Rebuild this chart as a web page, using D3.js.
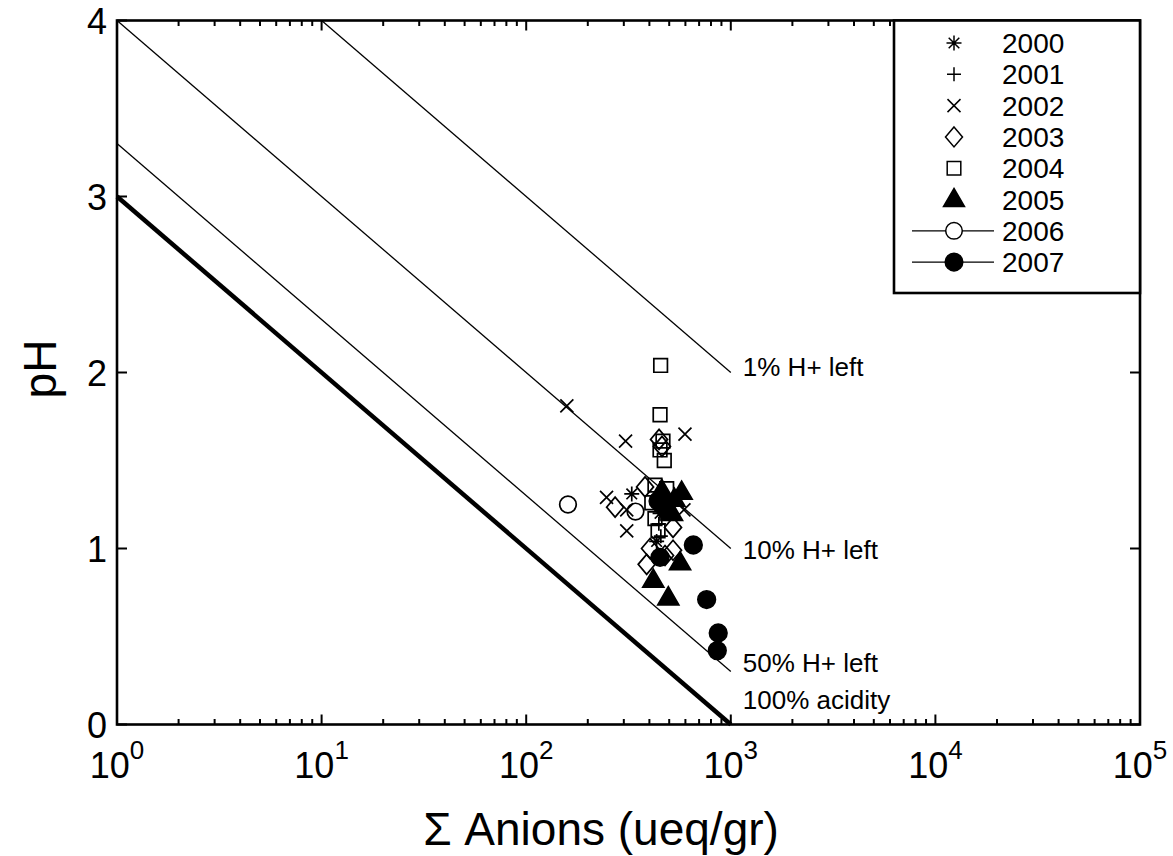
<!DOCTYPE html>
<html>
<head>
<meta charset="utf-8">
<script src="https://cdn.jsdelivr.net/npm/d3@7"></script>
<style>
  html, body { margin: 0; padding: 0; background: #fff; }
  svg { display: block; font-family: "Liberation Sans", Arial, sans-serif; }
</style>
</head>
<body>
<svg id="chart" width="1173" height="856"></svg>
<script>
// Sample data: [sum of anions (ueq/gr), pH]
const s2000 = [[328, 1.31], [434, 1.04], [451, 1.20], [477, 1.26]];
const s2001 = [[445, 1.14], [470, 1.21], [455, 1.07], [490, 1.29]];
const s2002 = [[158, 1.81], [306, 1.61], [597, 1.65], [247, 1.29], [310, 1.10], [310, 1.22], [590, 1.22]];
const s2003 = [[272, 1.235], [381, 1.35], [446, 1.62], [461, 1.58], [522, 1.12], [403, 1.00], [522, 0.99], [388, 0.91], [477, 0.96]];
const s2004 = [[454, 2.04], [451, 1.76], [466, 1.61], [451, 1.56], [473, 1.50], [426, 1.36], [486, 1.34], [411, 1.26], [426, 1.17], [441, 1.10]];
const s2005 = [[575, 1.32], [477, 1.25], [516, 1.20], [460, 1.33], [530, 1.28], [565, 0.92], [418, 0.82], [495, 0.72]];
const s2006 = [[160, 1.25], [342, 1.21]];
const s2007 = [[656, 1.02], [451, 0.95], [762, 0.71], [868, 0.52], [859, 0.42], [441, 1.27], [480, 1.22]];

const years = ["2000", "2001", "2002", "2003", "2004", "2005", "2006", "2007"];
const symbols = ["asterisk", "plus", "cross", "diamond", "square", "triangle", "circle", "disc"];
const seriesData = [s2000, s2001, s2002, s2003, s2004, s2005, s2006, s2007];
const legendLined = [false, false, false, false, false, false, true, true];

// Reference lines of remaining acidity: endpoints [anions, pH]
const refNames = ["1% H+ left", "10% H+ left", "50% H+ left", "100% acidity"];
const refLines = [
  [[10, 4], [1000, 2]],
  [[1, 4], [1000, 1]],
  [[1, 3.301], [1000, 0.301]],
  [[1, 3], [1000, 0]]
];
const refWidths = [1.3, 1.3, 1.3, 4.5];
// label anchor values [anions, pH]
const refLabelPos = [[1000, 1.98], [1000, 0.94], [1000, 0.30], [1000, 0.09]];

const xTickValues = [1, 10, 100, 1000, 10000, 100000];
const xTickExps = ["0", "1", "2", "3", "4", "5"];
const yTickValues = [0, 1, 2, 3, 4];

const svg = d3.select("#chart");
const L = 117, R = 1140, T = 20.5, B = 724.5;

const x = d3.scaleLog().domain([1, 1e5]).range([L, R]);
const y = d3.scaleLinear().domain([0, 4]).range([B, T]);

// Minor log ticks
const minorTicks = [];
for (let d = 0; d < 5; d++) {
  for (let k = 2; k <= 9; k++) minorTicks.push(k * Math.pow(10, d));
}

const axes = svg.append("g").attr("stroke", "#000").attr("fill", "none");

// bottom & top ticks
function xTicks(yPos, dir) {
  axes.selectAll(null).data(xTickValues).join("line")
    .attr("x1", d => x(d)).attr("x2", d => x(d))
    .attr("y1", yPos).attr("y2", yPos + dir * 10).attr("stroke-width", 2);
  axes.selectAll(null).data(minorTicks).join("line")
    .attr("x1", d => x(d)).attr("x2", d => x(d))
    .attr("y1", yPos).attr("y2", yPos + dir * 5.5).attr("stroke-width", 2);
}
xTicks(B, -1);
xTicks(T, 1);

function yTicks(xPos, dir) {
  axes.selectAll(null).data(yTickValues).join("line")
    .attr("x1", xPos).attr("x2", xPos + dir * 10)
    .attr("y1", d => y(d)).attr("y2", d => y(d)).attr("stroke-width", 2);
}
yTicks(L, 1);
yTicks(R, -1);

// Reference lines
const line = d3.line().x(d => x(d[0])).y(d => y(d[1]));
svg.append("g").selectAll("path").data(refLines).join("path")
  .attr("d", line)
  .attr("fill", "none")
  .attr("stroke", "#000")
  .attr("stroke-width", (d, i) => refWidths[i])
  .attr("stroke-linecap", "butt");

// Frame
svg.append("rect")
  .attr("x", L).attr("y", T).attr("width", R - L).attr("height", B - T)
  .attr("fill", "none").attr("stroke", "#000").attr("stroke-width", 2.6);

// Reference line labels
svg.append("g").selectAll("text").data(refNames).join("text")
  .attr("x", (d, i) => x(refLabelPos[i][0]) + 12)
  .attr("y", (d, i) => y(refLabelPos[i][1]))
  .attr("font-size", 26)
  .attr("fill", "#000")
  .text(d => d);

// Marker shapes
function symbolPath(name) {
  switch (name) {
    case "asterisk": {
      const a = 7.5, b = 5.3;
      return `M${-a},0L${a},0M0,${-a}L0,${a}M${-b},${-b}L${b},${b}M${-b},${b}L${b},${-b}`;
    }
    case "plus": { const a = 7; return `M${-a},0L${a},0M0,${-a}L0,${a}`; }
    case "cross": { const a = 6.5; return `M${-a},${-a}L${a},${a}M${-a},${a}L${a},${-a}`; }
    case "diamond": return "M0,-10L8.5,0L0,10L-8.5,0Z";
    case "square": return "M-6.8,-6.8H6.8V6.8H-6.8Z";
    case "triangle": return "M0,-11L10.5,7L-10.5,7Z";
    case "circle": return d3.arc()({ innerRadius: 0, outerRadius: 8.3, startAngle: 0, endAngle: 2 * Math.PI });
    case "disc": return d3.arc()({ innerRadius: 0, outerRadius: 8.8, startAngle: 0, endAngle: 2 * Math.PI });
  }
}
const filled = s => s === "triangle" || s === "disc";

// Data points
const pts = svg.append("g");
seriesData.forEach((data, i) => {
  const sym = symbols[i];
  pts.append("g").selectAll("path").data(data).join("path")
    .attr("transform", d => `translate(${x(d[0])},${y(d[1])})`)
    .attr("d", symbolPath(sym))
    .attr("fill", filled(sym) ? "#000" : "none")
    .attr("stroke", "#000")
    .attr("stroke-width", 1.7);
});

// Tick labels
const xl = svg.append("g").attr("fill", "#000");
xTickValues.forEach((v, i) => {
  const t = xl.append("text")
    .attr("x", x(v)).attr("y", 778)
    .attr("text-anchor", "middle")
    .attr("font-size", 36);
  t.append("tspan").text("10");
  t.append("tspan").attr("font-size", 26).attr("dy", -19).text(xTickExps[i]);
});

svg.append("g").selectAll("text").data(yTickValues).join("text")
  .attr("x", 107).attr("y", d => y(d) + 13)
  .attr("text-anchor", "end")
  .attr("font-size", 36)
  .attr("fill", "#000")
  .text(d => d);

// Axis titles
svg.append("text")
  .attr("x", 601).attr("y", 845)
  .attr("text-anchor", "middle")
  .attr("font-size", 46)
  .text("Σ Anions (ueq/gr)");

svg.append("text")
  .attr("transform", "translate(56,369) rotate(-90)")
  .attr("text-anchor", "middle")
  .attr("font-size", 46)
  .text("pH");

// Legend
const lg = svg.append("g");
lg.append("rect")
  .attr("x", 894).attr("y", T).attr("width", R - 894).attr("height", 293 - T)
  .attr("fill", "#fff").attr("stroke", "#000").attr("stroke-width", 2.6);
const rowY = i => 43 + i * 31.3;
years.forEach((yr, i) => {
  const g = lg.append("g");
  if (legendLined[i]) {
    g.append("line").attr("x1", 912).attr("x2", 994)
      .attr("y1", rowY(i)).attr("y2", rowY(i))
      .attr("stroke", "#000").attr("stroke-width", 1.3);
  }
  const sym = symbols[i];
  g.append("path")
    .attr("transform", `translate(954,${rowY(i)})`)
    .attr("d", symbolPath(sym))
    .attr("fill", filled(sym) ? "#000" : "#fff")
    .attr("stroke", "#000").attr("stroke-width", 1.5);
  g.append("text")
    .attr("x", 1002).attr("y", rowY(i) + 10)
    .attr("font-size", 28)
    .text(yr);
});
</script>
</body>
</html>
